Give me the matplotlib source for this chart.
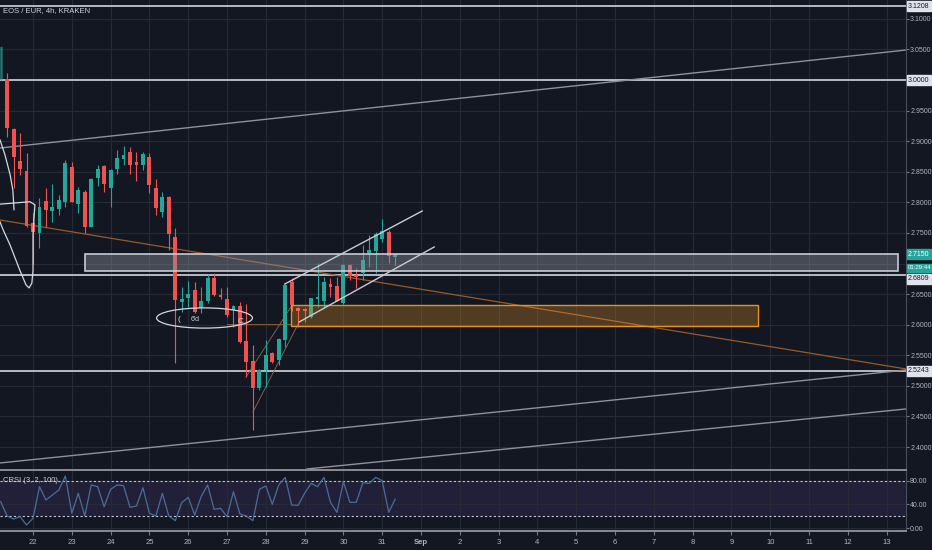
import numpy as np
import pandas as pd
import matplotlib
matplotlib.use("Agg")
import matplotlib.pyplot as plt
import matplotlib.dates as mdates
import matplotlib.transforms as mtrans
from matplotlib.patches import Rectangle, Ellipse
from matplotlib.ticker import FuncFormatter

# ---- data: EOS/EUR 4h candles (Kraken) ----
times = pd.date_range("2020-08-21 04:00", periods=62, freq="4h")

opens = [3.0000, 3.0016, 2.9199, 2.8676, 2.8512, 2.7662, 2.7499, 2.8022, 2.7858, 2.7891,
         2.8006, 2.8578, 2.7973, 2.8169, 2.7597, 2.8398, 2.8594, 2.8234, 2.8545, 2.8708,
         2.8823, 2.8659, 2.8610, 2.8741, 2.8234, 2.7842, 2.8087, 2.7433, 2.6371, 2.6436,
         2.6567, 2.6273, 2.6387, 2.6763, 2.6485, 2.6420, 2.6240, 2.6305, 2.5733, 2.5406,
         2.4965, 2.5259, 2.5537, 2.5423, 2.5750, 2.6698, 2.6273, 2.6257, 2.6126, 2.6420,
         2.6387, 2.6665, 2.6632, 2.6354, 2.6976, 2.6812, 2.6845, 2.7172, 2.7205, 2.7401,
         2.7515, 2.7106]
highs = [3.0560, 3.0114, 2.9215, 2.9134, 2.8807, 2.7826, 2.8071, 2.8234, 2.8300, 2.8120,
         2.8692, 2.8659, 2.8251, 2.8202, 2.8398, 2.8610, 2.8610, 2.8545, 2.8856, 2.8921,
         2.8905, 2.8823, 2.8823, 2.8807, 2.8382, 2.8169, 2.8100, 2.7580, 2.6616, 2.6714,
         2.6698, 2.6616, 2.6828, 2.6845, 2.6600, 2.6616, 2.6322, 2.6371, 2.6338, 2.5668,
         2.5275, 2.5750, 2.5553, 2.5780, 2.6665, 2.6763, 2.6289, 2.6273, 2.6440, 2.7008,
         2.6779, 2.6763, 2.6779, 2.6990, 2.6990, 2.6927, 2.7303, 2.7466, 2.7515, 2.7728,
         2.7548, 2.7160]
lows = [2.9980, 2.9068, 2.8234, 2.8447, 2.7597, 2.7000, 2.7254, 2.7597, 2.7679, 2.7793,
        2.7924, 2.8006, 2.7826, 2.7499, 2.7597, 2.8267, 2.8169, 2.7924, 2.8463, 2.8610,
        2.8463, 2.8349, 2.8529, 2.8153, 2.7793, 2.7760, 2.7221, 2.5374, 2.6207, 2.6289,
        2.6191, 2.6191, 2.6354, 2.6470, 2.6420, 2.6126, 2.5962, 2.5701, 2.5145, 2.4278,
        2.4932, 2.4981, 2.5374, 2.5341, 2.5635, 2.6224, 2.5962, 2.6044, 2.6110, 2.6289,
        2.6289, 2.6453, 2.6380, 2.6340, 2.6730, 2.6600, 2.6730, 2.6943, 2.6845, 2.7352,
        2.7008, 2.6976]
closes = [3.0540, 2.9215, 2.8741, 2.8545, 2.7613, 2.7515, 2.7924, 2.7875, 2.7924, 2.8038,
          2.8643, 2.8006, 2.8202, 2.7597, 2.8382, 2.8545, 2.8300, 2.8529, 2.8725, 2.8774,
          2.8610, 2.8610, 2.8790, 2.8283, 2.7907, 2.8087, 2.7482, 2.6403, 2.6420, 2.6502,
          2.6207, 2.6387, 2.6763, 2.6485, 2.6453, 2.6158, 2.6305, 2.5717, 2.5390, 2.4965,
          2.5259, 2.5504, 2.5390, 2.5766, 2.6649, 2.6322, 2.6224, 2.6224, 2.6436, 2.6453,
          2.6698, 2.6616, 2.6387, 2.6976, 2.6796, 2.6779, 2.7057, 2.7221, 2.7482, 2.7531,
          2.7123, 2.7150]

crsi = [44.8, 20.4, 15.3, 19.3, 5.1, 16.5, 70.3, 47.7, 56.2, 64.7,
        88.5, 25.0, 59.0, 20.4, 73.2, 70.3, 36.3, 65.8, 73.2, 72.1,
        35.2, 37.4, 68.6, 25.0, 20.4, 59.0, 20.4, 12.5, 43.1, 52.2,
        22.1, 53.3, 73.2, 31.8, 33.5, 19.3, 61.8, 23.8, 20.4, 12.5,
        65.8, 71.5, 40.3, 73.2, 86.2, 39.1, 38.6, 59.0, 76.0, 70.3,
        86.2, 43.7, 26.7, 78.8, 43.7, 43.7, 77.1, 76.0, 86.2, 80.5,
        26.7, 48.8]

price_ticks = [2.40, 2.45, 2.50, 2.55, 2.60, 2.65, 2.75, 2.80, 2.85, 2.90, 2.95, 3.05, 3.10]
hidden_grid = [2.70, 3.00]

# drawings (x in days of August, Sep 1 = 32)
h_levels = [3.1208, 3.0000, 2.6809, 2.5243]
grey_zone = (23.34, 44.29, 2.6877, 2.7155)
orange_zone = (28.65, 40.69, 2.5978, 2.6322)
trend_orange = ([21.15, 44.5], [2.7711, 2.5276])
trend_top = ([21.15, 44.5], [2.8888, 3.0490])
trend_low1 = ([21.15, 44.5], [2.3739, 2.5259])
trend_low2 = ([29.06, 44.5], [2.3641, 2.4622])
channel_up = ([28.49, 32.03], [2.6665, 2.7858])
channel_dn = ([28.86, 32.34], [2.6044, 2.7270])
thin_a = ([27.49, 28.68], [2.5145, 2.6322])
thin_b = ([27.67, 28.86], [2.4573, 2.6044])
hand_a = ([21.15, 21.28, 21.41, 21.48, 21.51], [2.902, 2.877, 2.845, 2.820, 2.788])
hand_b = ([21.15, 21.92, 22.05, 22.03, 22.00, 22.00, 21.97, 21.90, 21.82, 21.66, 21.41, 21.23, 21.15],
          [2.797, 2.801, 2.796, 2.779, 2.747, 2.689, 2.668, 2.660, 2.665, 2.689, 2.730, 2.755, 2.768])

BG = "#131722"
GRID = "#262a36"
TXT = "#b2b5be"
UP = "#26a69a"
DOWN = "#ef5350"
DRAW = "#c3c6ce"
FS = 5

plt.rcParams["font.family"] = ["Liberation Sans", "DejaVu Sans"]

base = mdates.date2num(pd.Timestamp("2020-08-01"))


def day(d):
    return base + np.asarray(d, dtype=float) - 1


fig = plt.figure(figsize=(9.32, 5.5), dpi=100, facecolor=BG)
ax = fig.add_axes([0, 80 / 550, 906 / 932, 470 / 550], facecolor=BG)
ax2 = fig.add_axes([0, 19 / 550, 906 / 932, 60 / 550], facecolor=BG, sharex=ax)

x = mdates.date2num(times)
o = np.array(opens)
c = np.array(closes)
cols = [UP if cc >= oo else DOWN for oo, cc in zip(o, c)]
alphas = [0.45] + [1.0] * (len(x) - 1)   # first bar sits half off the pane, drawn dimmed
body = np.maximum(np.abs(c - o), 0.0015)
for xi, lo, hi, b0, bh, col, al in zip(x, lows, highs, np.minimum(o, c), body, cols, alphas):
    ax.vlines(xi, lo, hi, colors=col, lw=0.8, zorder=3, alpha=al)
    ax.bar(xi, bh, bottom=b0, width=0.1, color=col, zorder=4, alpha=al)

# horizontal levels
for lv in h_levels:
    ax.axhline(lv, color=DRAW, lw=1.3, zorder=2)
for g in hidden_grid:
    ax.axhline(g, color=GRID, lw=0.8, zorder=0)

# zones
x0, x1, y0, y1 = grey_zone
ax.add_patch(Rectangle((day(x0), y0), day(x1) - day(x0), y1 - y0,
                       fc=(0.55, 0.57, 0.62, 0.42), ec="#c8cbd2", lw=1.2, zorder=5))
x0, x1, y0, y1 = orange_zone
ax.add_patch(Rectangle((day(x0), y0), day(x1) - day(x0), y1 - y0,
                       fc=(0.96, 0.6, 0.14, 0.28), ec="#e8901f", lw=1.0, zorder=5))

# trend lines
ax.plot(day(trend_orange[0]), trend_orange[1], color="#9a5a28", lw=0.9, zorder=2)
for tl in (trend_top, trend_low1, trend_low2):
    ax.plot(day(tl[0]), tl[1], color="#8f929b", lw=1.0, zorder=2)
for tl in (channel_up, channel_dn):
    ax.plot(day(tl[0]), tl[1], color="#c9ccd3", lw=1.0, zorder=6)
for tl in (thin_a, thin_b):
    ax.plot(day(tl[0]), tl[1], color="#8a6a55", lw=0.6, zorder=2)
ax.plot(day([27.0, 28.65]), [2.6011, 2.6011], color="#8a5a2a", lw=0.7, zorder=2)

# hand drawn marks
for hd in (hand_a, hand_b):
    ax.plot(day(hd[0]), hd[1], color="#d6d8de", lw=0.9, zorder=6)
ax.add_patch(Ellipse((day(26.42), 2.6109), 2.47, 0.033, fill=False,
                     ec="#d6d8de", lw=0.9, zorder=6))
ax.text(day(25.76), 2.609, "(", color="#d6d8de", fontsize=6, ha="center", va="center", zorder=7)
ax.text(day(26.17), 2.609, "6'd", color="#d6d8de", fontsize=5, ha="center", va="center", zorder=7)
ax.text(day(27.36), 2.605, "C", color="#d6d8de", fontsize=6, ha="center", va="center", zorder=7)

# axes styling
ax.set_xlim(day(21.149), day(44.5))
ax.set_ylim(2.3624, 3.1308)
ax.yaxis.tick_right()
ax.set_yticks(price_ticks)
ax.yaxis.set_major_formatter(FuncFormatter(lambda v, p: f"{v:.4f}"))
ax.tick_params(axis="y", colors="#787b86", labelcolor=TXT, labelsize=FS, length=2, pad=1)
ax.tick_params(axis="x", bottom=False, labelbottom=False)
ax.xaxis.set_major_locator(mdates.DayLocator())
ax.grid(color=GRID, lw=0.8)
for s in ("top", "left"):
    ax.spines[s].set_visible(False)
ax.spines["right"].set_color("#4a4e5a")
ax.spines["bottom"].set_color("#8a8d96")
ax.spines["bottom"].set_linewidth(1.4)

ax.text(0.003, 1 - 11 / 470, "EOS / EUR, 4h, KRAKEN", transform=ax.transAxes,
        color="#d1d4dc", fontsize=5.5, va="center")

# price labels on the axis
tr = mtrans.blended_transform_factory(ax.transAxes, ax.transData)
boxes = [(3.1208, "3.1208", "#e0e3eb", "#131722"),
         (3.0000, "3.0000", "#e0e3eb", "#131722"),
         (2.7150, "2.7150", UP, "white"),
         (2.6927, "01:29:44", UP, "white"),
         (2.6747, "2.6809", "#e0e3eb", "#131722"),
         (2.5243, "2.5243", "#e0e3eb", "#131722")]
for yv, lab, fc, tc in boxes:
    ax.text(1 + 2 / 906, yv, lab, transform=tr, fontsize=FS if len(lab) < 7 else 4.3,
            color=tc, va="center", ha="left", clip_on=False, zorder=10,
            bbox=dict(boxstyle="square,pad=0.2", fc=fc, ec=fc))

# CRSI pane
ax2.axhspan(20, 80, color="#7e57c2", alpha=0.15, lw=0)
ax2.axhline(80, color="#c3c6ce", lw=0.8, ls=(0, (2, 2)))
ax2.axhline(20, color="#c3c6ce", lw=0.8, ls=(0, (2, 2)))
ax2.plot(x, crsi, color="#4a6d98", lw=0.9, zorder=3)
ax2.set_ylim(-5.1, 97)
ax2.yaxis.tick_right()
ax2.set_yticks([0, 40, 80])
ax2.yaxis.set_major_formatter(FuncFormatter(lambda v, p: f"{v:.2f}"))
ax2.tick_params(axis="y", colors="#787b86", labelcolor=TXT, labelsize=FS, length=2, pad=1)
ax2.grid(color=GRID, lw=0.8)
for s in ("top", "left"):
    ax2.spines[s].set_visible(False)
ax2.spines["right"].set_color("#4a4e5a")
ax2.spines["bottom"].set_color("#8a8d96")
ax2.spines["bottom"].set_linewidth(1.4)
ax2.text(0.003, (80 + 5.1) / 102.1, "CRSI (3, 2, 100)", transform=ax2.transAxes,
         color="#d1d4dc", fontsize=5.5, va="center")

ax2.xaxis.set_major_locator(mdates.DayLocator())
ax2.xaxis.set_major_formatter(FuncFormatter(
    lambda v, p: mdates.num2date(v).strftime("%b") if mdates.num2date(v).day == 1
    else str(mdates.num2date(v).day)))
ax2.tick_params(axis="x", colors="#787b86", labelcolor=TXT, labelsize=5.5, length=3, pad=3)
fig.canvas.draw()
for t in ax2.get_xticklabels():
    if t.get_text() == "Sep":
        t.set_fontweight("bold")

fig.savefig("out.png", dpi=100, facecolor=BG)
